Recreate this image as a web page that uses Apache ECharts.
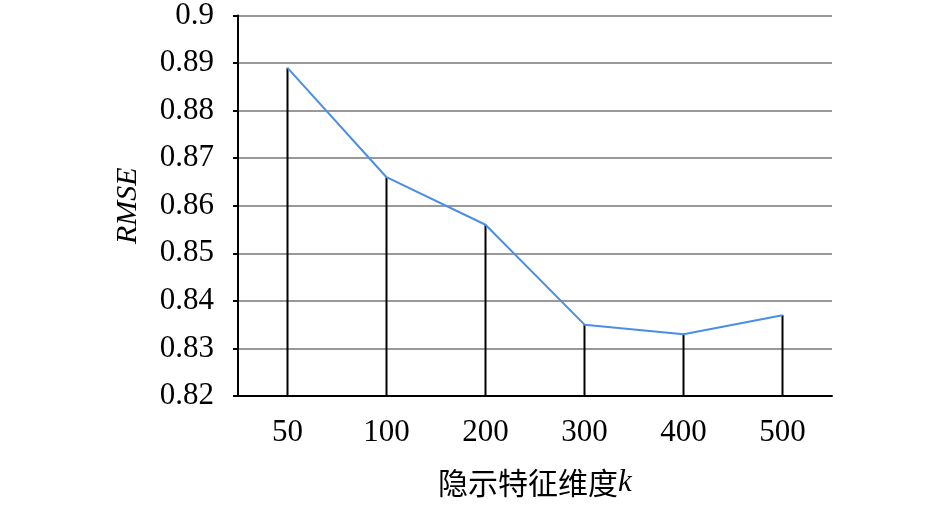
<!DOCTYPE html>
<html>
<head>
<meta charset="utf-8">
<script src="https://cdn.jsdelivr.net/npm/echarts@6/dist/echarts.min.js"></script>
<style>
	html, body { margin: 0; padding: 0; background: #fff; }
	#main { width: 945px; height: 508px; }
</style>
</head>
<body>
<div id="main"></div>
<script>
var kLabels = ['50', '100', '200', '300', '400', '500'];
var rmse = [0.889, 0.866, 0.856, 0.835, 0.833, 0.837];
var yMin = 0.82;
var yMax = 0.9;
var yStep = 0.01;

var chart = echarts.init(document.getElementById('main'));
var serif = '"Liberation Serif", "Times New Roman", serif';

chart.setOption({
	animation: false,
	grid: { left: 238, right: 113, top: 15, bottom: 112 },
	xAxis: {
		type: 'category',
		data: kLabels,
		boundaryGap: true,
		axisLine: { lineStyle: { color: '#000', width: 2 } },
		axisTick: { show: false },
		axisLabel: { margin: 21, color: '#000', fontSize: 31, fontFamily: serif },
		name: '{cn|隐示特征维度}{it|k}',
		nameLocation: 'middle',
		nameGap: 71,
		nameTextStyle: {
			rich: {
				cn: { fontSize: 30, color: '#000', fontFamily: '"Noto Sans CJK SC", serif' },
				it: { fontSize: 31, color: '#000', fontStyle: 'italic', fontFamily: serif }
			}
		}
	},
	yAxis: {
		type: 'value',
		min: yMin,
		max: yMax,
		interval: yStep,
		axisLine: { show: true, lineStyle: { color: '#000', width: 2 } },
		axisTick: { show: true, length: 5, lineStyle: { color: '#000', width: 2 } },
		axisLabel: {
			margin: 24, color: '#000', fontSize: 31, fontFamily: serif,
			formatter: function (v) { return String(+v.toFixed(2)); }
		},
		splitLine: { lineStyle: { color: '#999', width: 2 } },
		name: 'RMSE',
		nameLocation: 'middle',
		nameGap: 95,
		nameTextStyle: { color: '#000', fontSize: 30, fontStyle: 'italic', fontFamily: serif }
	},
	series: [
		{
			type: 'bar',
			data: rmse,
			barWidth: 2,
			clip: true,
			itemStyle: { color: '#000' }
		},
		{
			type: 'line',
			data: rmse,
			symbol: 'none',
			lineStyle: { color: '#4a8ee6', width: 2 }
		}
	]
});
</script>
</body>
</html>
